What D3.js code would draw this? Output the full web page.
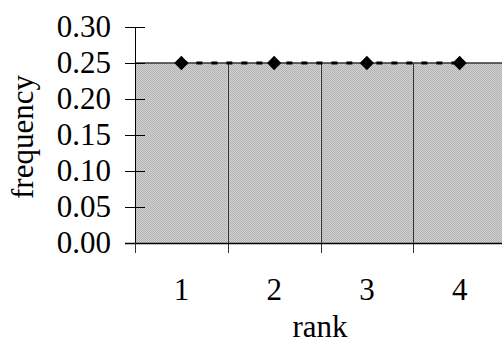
<!DOCTYPE html>
<html>
<head>
<meta charset="utf-8">
<script src="https://cdn.jsdelivr.net/npm/d3@7"></script>
<style>
  body { margin: 0; background: #fff; }
  svg { display: block; font-family: "Liberation Serif", "Times New Roman", serif; }
</style>
</head>
<body>
<div id="wrapper"></div>
<script>
const ranks = ["1", "2", "3", "4"];
const frequency = [0.25, 0.25, 0.25, 0.25];
const expected = [0.25, 0.25, 0.25, 0.25];
const yTicks = [0, 0.05, 0.1, 0.15, 0.2, 0.25, 0.3];

const width = 502;
const height = 343;

const svg = d3
  .select("#wrapper")
  .append("svg")
  .attr("width", width)
  .attr("height", height);

// dithered grey fill
const defs = svg.append("defs");
const pat = defs
  .append("pattern")
  .attr("id", "dither")
  .attr("width", 2)
  .attr("height", 2)
  .attr("patternUnits", "userSpaceOnUse");
pat.append("rect").attr("width", 2).attr("height", 2).attr("fill", "#d2d2d2");
pat.append("rect").attr("width", 1).attr("height", 1).attr("fill", "#b2b2b2");
pat.append("rect").attr("x", 1).attr("y", 1).attr("width", 1).attr("height", 1).attr("fill", "#b2b2b2");

const x = d3.scaleBand().domain(ranks).range([135, 506]).padding(0);
const y = d3.scaleLinear().domain([0, 0.3]).range([243, 27]);

// bars
svg
  .append("g")
  .selectAll("rect")
  .data(frequency)
  .join("rect")
  .attr("x", (d, i) => x(ranks[i]))
  .attr("y", (d) => y(d))
  .attr("width", x.bandwidth())
  .attr("height", (d) => y(0) - y(d))
  .attr("fill", "url(#dither)");

// bar dividers
svg
  .append("g")
  .selectAll("line")
  .data(ranks.slice(1))
  .join("line")
  .attr("x1", (d) => Math.round(x(d)) + 0.5)
  .attr("x2", (d) => Math.round(x(d)) + 0.5)
  .attr("y1", (d, i) => y(frequency[i + 1]))
  .attr("y2", y(0) + 10)
  .attr("stroke", "#333")
  .attr("stroke-width", 1);

// bar tops
svg
  .append("g")
  .selectAll("line")
  .data(frequency)
  .join("line")
  .attr("x1", (d, i) => x(ranks[i]))
  .attr("x2", (d, i) => x(ranks[i]) + x.bandwidth())
  .attr("y1", (d) => y(d))
  .attr("y2", (d) => y(d))
  .attr("stroke", "#333")
  .attr("stroke-width", 1.5);

// y axis
const yAxis = svg.append("g").attr("stroke", "#000");
yAxis
  .append("line")
  .attr("x1", 135.5)
  .attr("x2", 135.5)
  .attr("y1", y(0.3))
  .attr("y2", y(0))
  .attr("stroke-width", 1);
yAxis
  .selectAll("line.tick")
  .data(yTicks)
  .join("line")
  .attr("class", "tick")
  .attr("x1", 125)
  .attr("x2", 145)
  .attr("y1", (d) => Math.round(y(d)) + 0.5)
  .attr("y2", (d) => Math.round(y(d)) + 0.5)
  .attr("stroke-width", 1);

svg
  .append("g")
  .selectAll("text")
  .data(yTicks)
  .join("text")
  .attr("x", 111)
  .attr("y", (d) => y(d))
  .attr("dy", "0.33em")
  .attr("text-anchor", "end")
  .attr("font-size", 31)
  .text((d) => d.toFixed(2));

// x axis
svg
  .append("line")
  .attr("x1", 125)
  .attr("x2", width)
  .attr("y1", y(0) + 0.5)
  .attr("y2", y(0) + 0.5)
  .attr("stroke", "#000")
  .attr("stroke-width", 1.5);
svg
  .append("line")
  .attr("x1", 135.5)
  .attr("x2", 135.5)
  .attr("y1", y(0))
  .attr("y2", y(0) + 10)
  .attr("stroke", "#333");

svg
  .append("g")
  .selectAll("text")
  .data(ranks)
  .join("text")
  .attr("x", (d) => x(d) + x.bandwidth() / 2)
  .attr("y", 300)
  .attr("text-anchor", "middle")
  .attr("font-size", 31)
  .text((d) => d);

// dashed expected line with diamonds
const line = d3
  .line()
  .x((d, i) => x(ranks[i]) + x.bandwidth() / 2)
  .y((d) => y(d));
svg
  .append("path")
  .attr("d", line(expected))
  .attr("fill", "none")
  .attr("stroke", "#000")
  .attr("stroke-width", 3)
  .attr("stroke-dasharray", "6,9");

svg
  .append("g")
  .selectAll("path")
  .data(expected)
  .join("path")
  .attr("transform", (d, i) => `translate(${x(ranks[i]) + x.bandwidth() / 2},${y(d)})`)
  .attr("d", d3.symbol().type(d3.symbolDiamond2).size(130))
  .attr("fill", "#000");

// axis titles
svg
  .append("text")
  .attr("x", 320)
  .attr("y", 337)
  .attr("text-anchor", "middle")
  .attr("font-size", 31)
  .text("rank");

svg
  .append("text")
  .attr("transform", "translate(33,137) rotate(-90)")
  .attr("text-anchor", "middle")
  .attr("font-size", 31)
  .text("frequency");
</script>
</body>
</html>
